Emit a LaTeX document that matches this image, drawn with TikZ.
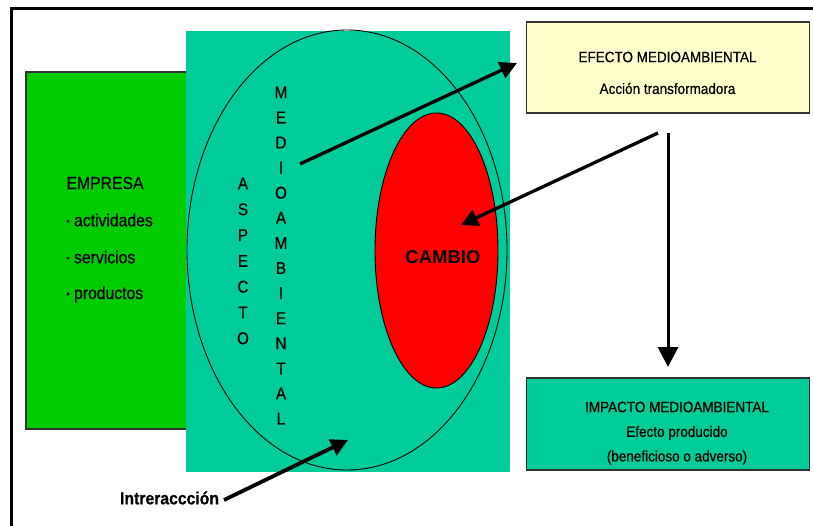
\documentclass[tikz,border=0pt]{standalone}
\usepackage{fontspec}
\setmainfont{Liberation Sans}[FakeStretch=0.9, FakeBold=0.6]
\newfontfamily\widesans{Liberation Sans}
\usetikzlibrary{arrows.meta,shapes.geometric}
\definecolor{empresagreen}{RGB}{0,204,0}
\definecolor{aspectoteal}{RGB}{0,204,153}
\definecolor{efectoyellow}{RGB}{255,255,204}
\definecolor{cambiored}{RGB}{255,0,0}
\newcommand{\itemdot}{\raisebox{0.1em}{\fontsize{10}{10}\selectfont •}\hspace{0.25em}}
\tikzset{
  frameline/.style={line width=3pt, black},
  panel/.style={draw=black!80, line width=1.2pt, inner sep=0pt, outer sep=0pt, anchor=north west},
  oval/.style={ellipse, draw=black, line width=0.9pt, inner sep=0pt, outer sep=0pt},
  label/.style={inner sep=0pt, outer sep=0pt},
  bodytext/.style={label, font=\fontsize{17.5}{20}\selectfont},
  boxtext/.style={label, font=\fontsize{15}{18}\selectfont},
  stacked/.style={label, align=center},
  bigarrow/.style={line width=3.3pt, -{Triangle[length=17pt,width=17pt]}},
  droparrow/.style={line width=3pt, -{Triangle[length=20pt,width=20pt]}}
}
\begin{document}
\begin{tikzpicture}[x=1pt,y=-1pt]
\useasboundingbox (0,0) rectangle (813,526);

% outer frame (top and left edges)
\coordinate (frameTL) at (11,8.5);
\coordinate (frameTR) at (813,8.5);
\coordinate (frameBL) at (11,526);
\draw[frameline] (frameTR) -- (frameTL) -- (frameBL);

% organisation panel
\node[panel, fill=empresagreen, minimum width=174pt, minimum height=357pt] (empresa) at (26,72) {};

% environmental aspect field
\node[fill=aspectoteal, inner sep=0pt, outer sep=0pt, anchor=north west, minimum width=324pt, minimum height=441pt] (campo) at (186,31) {};

% aspect and change ovals
\node[oval, minimum width=320pt, minimum height=440pt] (aspecto) at (347,250) {};
\node[oval, fill=cambiored, minimum width=123pt, minimum height=275pt] (cambio) at (436.5,250.5) {};

% effect and impact boxes
\node[panel, fill=efectoyellow, minimum width=283pt, minimum height=91pt] (efecto) at (526.5,22) {};
\node[panel, fill=aspectoteal, minimum width=283pt, minimum height=92pt] (impacto) at (526.5,378) {};

% organisation text
\node[bodytext, anchor=west] (tEmpresa) at (66.5,183) {EMPRESA};
\node[bodytext, anchor=west] (tAct) at (66.5,220) {\itemdot actividades};
\node[bodytext, anchor=west] (tServ) at (66.5,257) {\itemdot servicios};
\node[bodytext, anchor=west] (tProd) at (66.5,294.5) {\itemdot productos};

% vertical lettering
\node[stacked, font=\fontsize{17}{25.8}\selectfont] (tAspecto) at (243,261)
  {A\\S\\P\\E\\C\\T\\O};
\node[stacked, font=\fontsize{17}{25.1}\selectfont] (tMedio) at (281,255.5)
  {M\\E\\D\\I\\O\\A\\M\\B\\I\\E\\N\\T\\A\\L};

% change label
\node[label, font=\widesans\bfseries\fontsize{18.5}{20}\selectfont] (tCambio) at (443,257.5) {CAMBIO};

% box texts
\node[boxtext] (tEfecto) at (667.5,57) {EFECTO MEDIOAMBIENTAL};
\node[boxtext] (tAccion) at (667.5,88.5) {Acción transformadora};
\node[boxtext] (tImpacto) at (677,407) {IMPACTO MEDIOAMBIENTAL};
\node[boxtext] (tProducido) at (677,433) {Efecto producido};
\node[boxtext] (tAdverso) at (677,457.5) {(beneficioso o adverso)};

% interaction label
\node[label, anchor=east, font=\bfseries\fontsize{17.5}{20}\selectfont] (tInter) at (219,498) {Intreraccción};

% connectors
\coordinate (aspFrom) at (300,164);
\coordinate (efeTo) at (517,63);
\coordinate (efeFrom) at (658,133);
\coordinate (camTo) at (461,225);
\coordinate (dropFrom) at (668,133);
\coordinate (impTo) at (668,367);
\coordinate (intFrom) at (224,500);
\coordinate (intTo) at (348,440);
\draw[bigarrow] (aspFrom) -- (efeTo);
\draw[bigarrow] (efeFrom) -- (camTo);
\draw[droparrow] (dropFrom) -- (impTo);
\draw[bigarrow, line width=3.8pt] (intFrom) -- (intTo);
\end{tikzpicture}
\end{document}
